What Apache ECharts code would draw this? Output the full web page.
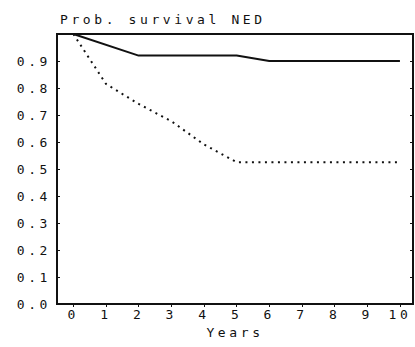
<!DOCTYPE html>
<html>
<head>
<meta charset="utf-8">
<script src="https://cdn.jsdelivr.net/npm/echarts@6/dist/echarts.min.js"></script>
<style>
  html, body { margin: 0; padding: 0; background: #fff; }
  #chart { width: 415px; height: 347px; }
  #chart text { letter-spacing: 3.6px; }
</style>
</head>
<body>
<div id="chart"></div>
<script>
const years = [0, 1, 2, 3, 4, 5, 6, 7, 8, 9, 10];
const yTicks = [0, 0.1, 0.2, 0.3, 0.4, 0.5, 0.6, 0.7, 0.8, 0.9];

// solid curve
const solidX = [0, 2, 5, 6, 10];
const solidY = [1.0, 0.92, 0.92, 0.90, 0.90];

// dotted curve
const dottedX = [0, 1, 2, 3, 4, 5, 10];
const dottedY = [1.0, 0.815, 0.741, 0.677, 0.591, 0.525, 0.525];

const font = '"DejaVu Sans Mono", monospace';
const ink = '#111';

const chart = echarts.init(document.getElementById('chart'), null, { renderer: 'svg' });

chart.setOption({
  animation: false,
  title: {
    text: 'Prob. survival NED',
    left: 55,
    top: 8,
    textStyle: { fontFamily: font, fontSize: 13, fontWeight: 'normal', color: ink },
  },
  grid: {
    left: 57,
    right: 2,
    top: 34,
    bottom: 43,
    show: true,
    borderColor: ink,
    borderWidth: 2,
  },
  xAxis: {
    type: 'value',
    min: -0.5,
    max: 10.4,
    name: 'Years',
    nameLocation: 'middle',
    nameGap: 22,
    nameTextStyle: { fontFamily: font, fontSize: 13, color: ink },
    splitLine: { show: false },
    axisLine: { onZero: false, lineStyle: { color: ink, width: 2 } },
    axisTick: { show: true, length: 3, customValues: years, lineStyle: { color: ink } },
    axisLabel: {
      customValues: years,
      fontFamily: font,
      fontSize: 13,
      color: ink,
      margin: 4,
    },
  },
  yAxis: [
    {
      type: 'value',
      min: 0,
      max: 1.0,
      splitLine: { show: false },
      axisLine: { show: true, onZero: false, lineStyle: { color: ink, width: 2 } },
      axisTick: { show: true, inside: true, length: 3, customValues: yTicks, lineStyle: { color: ink } },
      axisLabel: {
        customValues: yTicks,
        formatter: (v) => v.toFixed(1),
        fontFamily: font,
        fontSize: 13,
        color: ink,
        margin: 6,
      },
    },
    {
      type: 'value',
      min: 0,
      max: 1.0,
      position: 'right',
      splitLine: { show: false },
      axisLine: { show: true, onZero: false, lineStyle: { color: ink, width: 2 } },
      axisTick: { show: true, inside: true, length: 3, customValues: yTicks, lineStyle: { color: ink } },
      axisLabel: { show: false },
    },
  ],
  series: [
    {
      type: 'line',
      data: solidX.map((x, i) => [x, solidY[i]]),
      symbol: 'none',
      lineStyle: { color: ink, width: 2 },
    },
    {
      type: 'line',
      data: dottedX.map((x, i) => [x, dottedY[i]]),
      symbol: 'none',
      lineStyle: { color: ink, width: 2, type: [2, 4.5] },
    },
  ],
});
</script>
</body>
</html>
